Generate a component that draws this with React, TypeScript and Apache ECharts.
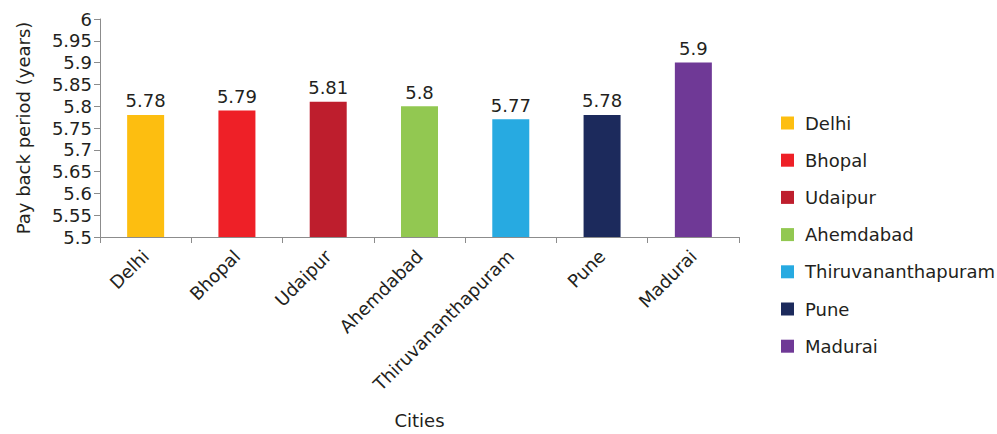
import React, { useEffect, useRef } from "react";
import * as echarts from "echarts";

const cities = ["Delhi", "Bhopal", "Udaipur", "Ahemdabad", "Thiruvananthapuram", "Pune", "Madurai"];
const payback = [5.78, 5.79, 5.81, 5.8, 5.77, 5.78, 5.9];
const colors = ["#FDBE10", "#EE2027", "#BE1E2D", "#92C851", "#27AAE1", "#1C2A5C", "#6F3996"];

const FONT = "DejaVu Sans, Liberation Sans, sans-serif";
const TXT = "#231F20";
const FS = 18;

export default function App() {
  const ref = useRef<HTMLDivElement>(null);
  useEffect(() => {
    if (!ref.current) return;
    const chart = echarts.init(ref.current, null, { renderer: "svg" });
    const series = cities.map((c, i) => ({
      name: c,
      type: "bar",
      stack: "all",
      barWidth: 37,
      data: cities.map((_, j) => (j === i ? payback[i] : "-")),
      itemStyle: { color: colors[i] },
      label: {
        show: true,
        position: "top",
        distance: 5,
        fontFamily: FONT,
        fontSize: FS,
        color: TXT,
      },
    }));
    chart.setOption({
      animation: false,
      textStyle: { fontFamily: FONT },
      grid: { left: 100, top: 19, right: 258, bottom: 195, containLabel: false },
      legend: {
        orient: "vertical",
        left: 776,
        top: 109,
        itemWidth: 13,
        itemHeight: 13,
        itemGap: 19.2,
        icon: "rect",
        data: cities,
        textStyle: { fontFamily: FONT, fontSize: FS, lineHeight: 18, color: TXT, padding: [0, 0, 0, 6] },
      },
      xAxis: {
        type: "category",
        data: cities,
        name: "Cities",
        nameLocation: "middle",
        nameGap: 174,
        nameTextStyle: { fontFamily: FONT, fontSize: FS, color: TXT },
        axisLine: { lineStyle: { color: "#8C8C8C", width: 1 } },
        axisTick: { show: true, length: 6, lineStyle: { color: "#8C8C8C" } },
        axisLabel: {
          rotate: 45,
          interval: 0,
          margin: 16,
          fontFamily: FONT,
          fontSize: FS,
          color: TXT,
        },
      },
      yAxis: {
        type: "value",
        min: 5.5,
        max: 6,
        interval: 0.05,
        name: "Pay back period (years)",
        nameLocation: "middle",
        nameGap: 68,
        nameTextStyle: { fontFamily: FONT, fontSize: FS, color: TXT },
        splitLine: { show: false },
        axisLine: { show: true, lineStyle: { color: "#8C8C8C", width: 1 } },
        axisTick: { show: true, length: 6, lineStyle: { color: "#8C8C8C" } },
        axisLabel: {
          margin: 8,
          fontFamily: FONT,
          fontSize: FS,
          color: TXT,
          formatter: (v: number) => String(parseFloat(v.toFixed(2))),
        },
      },
      series,
    });
    return () => chart.dispose();
  }, []);
  return <div ref={ref} style={{ width: 997, height: 434, position: "absolute", left: 0, top: 0 }} />;
}
